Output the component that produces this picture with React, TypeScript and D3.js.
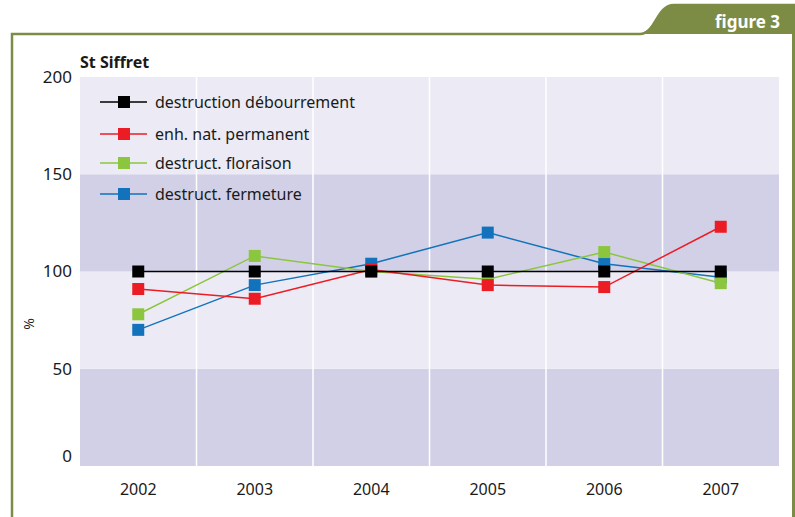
import * as d3 from "d3";

const years = ["2002", "2003", "2004", "2005", "2006", "2007"];
const yTicks = [0, 50, 100, 150, 200];

const debourrement = [100, 100, 100, 100, 100, 100];
const enhNat = [91, 86, 101, 93, 92, 123];
const floraison = [78, 108, 100, 96, 110, 94];
const fermeture = [70, 93, 104, 120, 104, 97];

const seriesNames = [
  "destruction débourrement",
  "enh. nat. permanent",
  "destruct. floraison",
  "destruct. fermeture",
];
const seriesColors = ["#000000", "#ec1c24", "#8cc63f", "#1273bc"];

const W = 795;
const H = 517;
const margin = { top: 77, right: 16, bottom: 51, left: 80 };
const FONT = "'Noto Sans', sans-serif";

export default function App() {
  const seriesData = [debourrement, enhNat, floraison, fermeture];

  const x = d3
    .scaleBand<string>()
    .domain(years)
    .range([margin.left, W - margin.right]);

  const y = d3
    .scaleLinear()
    .domain([0, 200])
    .range([H - margin.bottom, margin.top]);

  const line = d3
    .line<number>()
    .x((_, i) => x(years[i])! + x.bandwidth() / 2)
    .y((d) => y(d));

  // draw order: blue, green, red, black (black on top)
  const drawOrder = [3, 2, 1, 0];
  const sq = 12;

  // alternate stripes between ticks
  const stripes = d3.pairs(yTicks);

  return (
    <svg
      width={W}
      height={H}
      style={{ position: "absolute", left: 0, top: 0, background: "#fff" }}
    >
      {/* frame */}
      <path
        d={`M12,${H} L12,34 L640,34 C656,34 656,5 674,5 L795,5 L795,${H}`}
        fill="none"
        stroke="#7d8c45"
        strokeWidth={2.5}
      />
      <path d={`M636,34 C656,34 656,5 674,5 L795,5 L795,34 Z`} fill="#7d8c45" />
      <rect x={792} y={5} width={3} height={H} fill="#7d8c45" />
      <text
        x={780}
        y={28}
        textAnchor="end"
        fill="#fff"
        fontFamily={FONT}
        fontWeight="bold"
        fontSize={17}
      >
        figure 3
      </text>

      {/* title */}
      <text
        x={margin.left}
        y={68}
        fontFamily={FONT}
        fontWeight="bold"
        fontSize={16}
        fill="#1a1a1a"
      >
        St Siffret
      </text>

      {/* background bands */}
      {stripes.map(([a, b], i) => (
        <rect
          key={i}
          x={margin.left}
          width={W - margin.right - margin.left}
          y={y(b)}
          height={y(a) - y(b)}
          fill={i % 2 === 0 ? "#d2d0e7" : "#ecebf5"}
        />
      ))}

      {/* vertical grid */}
      {years.slice(1).map((yr) => (
        <line
          key={yr}
          x1={x(yr)}
          x2={x(yr)}
          y1={margin.top}
          y2={H - margin.bottom}
          stroke="#fff"
          strokeWidth={1.5}
        />
      ))}

      {/* y ticks */}
      {yTicks.map((t) => (
        <text
          key={t}
          x={72}
          y={y(t) - (t === 0 ? 10 : 0)}
          dy="0.35em"
          textAnchor="end"
          fontFamily={FONT}
          fontSize={17}
          fill="#1a1a1a"
        >
          {t}
        </text>
      ))}
      <text
        transform={`translate(34,${y(73)}) rotate(-90)`}
        textAnchor="middle"
        fontFamily={FONT}
        fontSize={14}
        fill="#1a1a1a"
      >
        %
      </text>

      {/* x labels */}
      {years.map((yr) => (
        <text
          key={yr}
          x={x(yr)! + x.bandwidth() / 2}
          y={495}
          textAnchor="middle"
          fontFamily={FONT}
          fontSize={16}
          fill="#1a1a1a"
        >
          {yr}
        </text>
      ))}

      {/* series */}
      {drawOrder.map((si) => (
        <g key={si}>
          <path
            d={line(seriesData[si]) ?? ""}
            fill="none"
            stroke={seriesColors[si]}
            strokeWidth={si === 0 ? 1.6 : 1.5}
          />
          {seriesData[si].map((v, i) => (
            <rect
              key={i}
              x={x(years[i])! + x.bandwidth() / 2 - sq / 2}
              y={y(v) - sq / 2}
              width={sq}
              height={sq}
              fill={seriesColors[si]}
            />
          ))}
        </g>
      ))}

      {/* legend */}
      {seriesNames.map((name, i) => {
        const ly = [102, 134, 163, 194][i];
        return (
          <g key={name}>
            <line x1={100} x2={147} y1={ly} y2={ly} stroke={seriesColors[i]} strokeWidth={1.5} />
            <rect x={118} y={ly - 6} width={12} height={12} fill={seriesColors[i]} />
            <text
              x={155}
              y={ly}
              dy="0.35em"
              fontFamily={FONT}
              fontSize={16}
              fill="#1a1a1a"
            >
              {name}
            </text>
          </g>
        );
      })}
    </svg>
  );
}
